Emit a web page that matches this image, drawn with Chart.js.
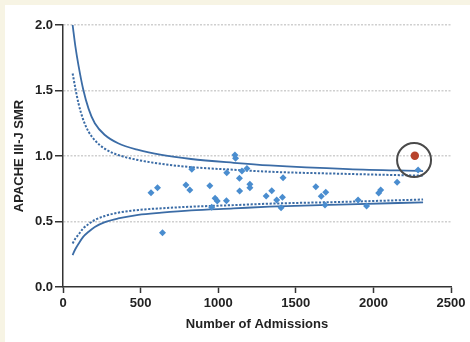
<!DOCTYPE html>
<html>
<head>
<meta charset="utf-8">
<script src="https://cdn.jsdelivr.net/npm/chart.js@4"></script>
<style>
  html, body { margin: 0; padding: 0; background: #fff; }
  #wrap { width: 470px; height: 342px; }
</style>
</head>
<body>
<div id="wrap"><canvas id="funnel" width="470" height="342"></canvas></div>
<script>
// control limits at these admission counts
var limitN     = [62, 80, 100, 130, 165, 205, 270, 355, 485, 635, 825, 1100, 1330, 1840, 2320];
var upperSolid = [2.0, 1.835, 1.69, 1.51, 1.36, 1.25, 1.16, 1.097, 1.046, 1.008, 0.977, 0.948, 0.928, 0.90, 0.885];
var upperDot   = [1.63, 1.515, 1.40, 1.278, 1.185, 1.12, 1.055, 1.008, 0.969, 0.94, 0.915, 0.895, 0.88, 0.863, 0.85];
var lowerDot   = [0.333, 0.37, 0.40, 0.447, 0.48, 0.512, 0.542, 0.567, 0.588, 0.601, 0.613, 0.625, 0.636, 0.651, 0.668];
var lowerSolid = [0.244, 0.29, 0.33, 0.383, 0.422, 0.458, 0.495, 0.523, 0.551, 0.568, 0.585, 0.60, 0.613, 0.631, 0.646];

// hospitals
var admissions = [567, 609, 641, 792, 817, 830, 946, 958, 980, 994, 1055, 1053, 1108, 1112, 1137, 1138, 1153, 1185, 1204, 1204,
                  1309, 1345, 1377, 1414, 1405, 1418, 1629, 1664, 1693, 1688, 1901, 1956, 2034, 2047, 2153, 2288];
var smr        = [0.72, 0.758, 0.415, 0.779, 0.74, 0.898, 0.773, 0.608, 0.677, 0.656, 0.872, 0.659, 1.008, 0.982, 0.83, 0.733, 0.885, 0.905, 0.784, 0.758,
                  0.695, 0.735, 0.664, 0.685, 0.605, 0.834, 0.766, 0.692, 0.724, 0.626, 0.664, 0.618, 0.718, 0.74, 0.80, 0.893];

// highlighted hospital
var highlightN = [2267];
var highlightSmr = [1.002];
var ringN = [2262];
var ringSmr = [0.969];

var xTicks = [0, 500, 1000, 1500, 2000, 2500];
var yTicks = [0.0, 0.5, 1.0, 1.5, 2.0];

function pairs(xs, ys) {
    var out = [];
    for (var i = 0; i < xs.length; i++) out.push({x: xs[i], y: ys[i]});
    return out;
}

var lineBlue = '#3b6ca6';
var dotBlue = '#4a8dcf';
var txt = '#222';
var fam = "'Liberation Sans', Arial, sans-serif";

function curve(label, ys, dashed) {
    return {
        label: label,
        data: pairs(limitN, ys),
        showLine: true,
        borderColor: lineBlue,
        borderWidth: dashed ? 2 : 1.8,
        borderDash: dashed ? [2.2, 1.6] : [],
        pointRadius: 0,
        fill: false,
        cubicInterpolationMode: 'monotone',
        order: 3
    };
}

var background = {
    id: 'background',
    beforeDraw: function(chart) {
        var c = chart.ctx;
        c.save();
        c.fillStyle = '#f7f4e4';
        c.fillRect(0, 0, chart.width, chart.height);
        c.fillStyle = '#ffffff';
        c.fillRect(5, 5, chart.width - 5, chart.height - 5);
        c.restore();
    }
};

var ctx = document.getElementById('funnel');
var chart = new Chart(ctx, {
    type: 'scatter',
    data: {
        datasets: [
            curve('upper 99.8%', upperSolid, false),
            curve('upper 95%', upperDot, true),
            curve('lower 95%', lowerDot, true),
            curve('lower 99.8%', lowerSolid, false),
            {
                label: 'hospitals',
                data: pairs(admissions, smr),
                pointStyle: 'rectRot',
                pointRadius: 3.5,
                backgroundColor: dotBlue,
                borderColor: dotBlue,
                borderWidth: 0,
                order: 2
            },
            {
                label: 'highlight',
                data: pairs(highlightN, highlightSmr),
                pointRadius: 4.2,
                backgroundColor: '#b8432b',
                borderColor: '#b8432b',
                borderWidth: 0,
                order: 1
            },
            {
                label: 'ring',
                data: pairs(ringN, ringSmr),
                pointRadius: 17,
                backgroundColor: 'rgba(0,0,0,0)',
                borderColor: '#4a4a4a',
                borderWidth: 2,
                order: 0
            }
        ]
    },
    options: {
        responsive: false,
        animation: false,
        events: [],
        layout: { padding: { left: 0, right: 16, top: 25, bottom: 0 } },
        plugins: { legend: { display: false }, tooltip: { enabled: false } },
        scales: {
            x: {
                type: 'linear',
                min: 0, max: 2500,
                afterFit: function(s) { s.height = 55; },
                afterBuildTicks: function(s) { s.ticks = xTicks.map(function(v){ return {value: v}; }); },
                border: { color: '#333', width: 1.5 },
                grid: { drawOnChartArea: false, drawTicks: true, tickLength: 6, tickColor: '#333', tickWidth: 1.5 },
                ticks: { color: txt, padding: 3, maxRotation: 0, font: { family: fam, size: 13, weight: 'bold' },
                         callback: function(v) { return String(v); } },
                title: { display: true, text: 'Number of Admissions', color: txt, padding: { top: 0, bottom: 10 },
                         font: { family: fam, size: 13, weight: 'bold' } }
            },
            y: {
                type: 'linear',
                min: 0, max: 2,
                afterFit: function(s) { s.width = 63; },
                afterBuildTicks: function(s) { s.ticks = yTicks.map(function(v){ return {value: v}; }); },
                border: { color: '#333', width: 1.5, dash: [2, 1.5] },
                grid: {
                    color: function(c) { return c.tick && c.tick.value === 0 ? 'rgba(0,0,0,0)' : '#cfcfcf'; },
                    lineWidth: 1.5,
                    tickLength: 8,
                    tickColor: '#333',
                    tickWidth: 1.5,
                    tickBorderDash: []
                },
                ticks: { color: txt, padding: 2, font: { family: fam, size: 13, weight: 'bold' },
                         callback: function(v) { return v.toFixed(1); } },
                title: { display: true, text: 'APACHE III-J SMR', color: txt, padding: { top: 12, bottom: 0 },
                         font: { family: fam, size: 13, weight: 'bold' } }
            }
        }
    },
    plugins: [background]
});
</script>
</body>
</html>
